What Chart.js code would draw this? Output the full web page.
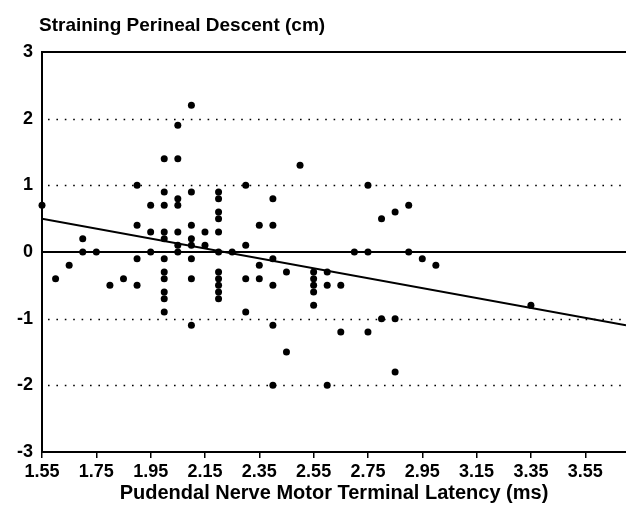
<!DOCTYPE html>
<html>
<head>
<meta charset="utf-8">
<script src="https://cdn.jsdelivr.net/npm/chart.js@4.4.1/dist/chart.umd.min.js"></script>
<style>
  body { margin: 0; background: #fff; }
  #wrap { width: 626px; height: 525px; }
</style>
</head>
<body>
<div id="wrap"><canvas id="chart" width="626" height="525"></canvas></div>
<script>
// latency (ms) and straining descent (cm), one entry per patient
const latency = [
    1.55, 1.60, 1.65, 1.70, 1.70, 1.75, 1.80, 1.85,
    1.90, 1.90, 1.90, 1.90,
    1.95, 1.95, 1.95,
    2.00, 2.00, 2.00, 2.00, 2.00, 2.00, 2.00, 2.00, 2.00, 2.00, 2.00,
    2.05, 2.05, 2.05, 2.05, 2.05, 2.05, 2.05,
    2.10, 2.10, 2.10, 2.10, 2.10, 2.10, 2.10, 2.10,
    2.15, 2.15,
    2.20, 2.20, 2.20, 2.20, 2.20, 2.20, 2.20, 2.20, 2.20, 2.20, 2.20,
    2.25,
    2.30, 2.30, 2.30, 2.30,
    2.35, 2.35, 2.35,
    2.40, 2.40, 2.40, 2.40, 2.40, 2.40,
    2.45, 2.45,
    2.50,
    2.55, 2.55, 2.55, 2.55, 2.55,
    2.60, 2.60, 2.60,
    2.65, 2.65,
    2.70,
    2.75, 2.75, 2.75,
    2.80, 2.80,
    2.85, 2.85, 2.85,
    2.90, 2.90,
    2.95, 3.00, 3.35
];
const descent = [
    0.7, -0.4, -0.2, 0.2, 0, 0, -0.5, -0.4,
    1.0, 0.4, -0.1, -0.5,
    0.7, 0.3, 0,
    1.4, 0.9, 0.7, 0.3, 0.2, -0.1, -0.3, -0.4, -0.6, -0.7, -0.9,
    1.9, 1.4, 0.8, 0.7, 0.3, 0.1, 0,
    2.2, 0.9, 0.4, 0.2, 0.1, -0.1, -0.4, -1.1,
    0.3, 0.1,
    0.9, 0.8, 0.6, 0.5, 0.3, 0, -0.3, -0.4, -0.5, -0.6, -0.7,
    0,
    1.0, 0.1, -0.4, -0.9,
    0.4, -0.2, -0.4,
    0.8, 0.4, -0.1, -0.5, -1.1, -2.0,
    -0.3, -1.5,
    1.3,
    -0.3, -0.4, -0.5, -0.6, -0.8,
    -0.3, -0.5, -2.0,
    -0.5, -1.2,
    0,
    1.0, 0, -1.2,
    0.5, -1.0,
    0.6, -1.0, -1.8,
    0.7, 0,
    -0.1, -0.2, -0.8
];

// regression line
const fitX = [1.55, 3.7];
const fitY = [0.5, -1.1];

const xTicks = [1.55, 1.75, 1.95, 2.15, 2.35, 2.55, 2.75, 2.95, 3.15, 3.35, 3.55];
const yTicks = [-3, -2, -1, 0, 1, 2, 3];
const dottedAt = [-2, -1, 1, 2];
const solidAt = [0, 3];

const yTitle = 'Straining Perineal Descent (cm)';
const xTitle = 'Pudendal Nerve Motor Terminal Latency (ms)';
const FONT = '"Liberation Sans", Arial, Helvetica, sans-serif';

const points = latency.map((x, i) => ({ x: x, y: descent[i] }));
const fitLine = fitX.map((x, i) => ({ x: x, y: fitY[i] }));

// horizontal reference lines + the y title in the top-left corner
const refLines = {
    id: 'refLines',
    beforeDatasetsDraw(chart) {
        const { ctx, chartArea, scales } = chart;
        ctx.save();
        ctx.strokeStyle = '#000';
        ctx.lineWidth = 1.6;
        ctx.setLineDash([1.6, 6.8]);
        dottedAt.forEach(v => {
            const y = Math.round(scales.y.getPixelForValue(v)) + 0.5;
            ctx.beginPath();
            ctx.moveTo(chartArea.left + 6, y);
            ctx.lineTo(chartArea.right, y);
            ctx.stroke();
        });
        ctx.setLineDash([]);
        ctx.lineWidth = 2;
        solidAt.forEach(v => {
            const y = scales.y.getPixelForValue(v);
            ctx.beginPath();
            ctx.moveTo(chartArea.left, y);
            ctx.lineTo(chartArea.right, y);
            ctx.stroke();
        });
        ctx.restore();
    },
    afterDraw(chart) {
        const ctx = chart.ctx;
        ctx.save();
        ctx.fillStyle = '#000';
        ctx.font = 'bold 19px ' + FONT;
        ctx.textBaseline = 'alphabetic';
        ctx.textAlign = 'left';
        ctx.fillText(yTitle, 39, 31);
        ctx.restore();
    }
};

new Chart(document.getElementById('chart').getContext('2d'), {
    type: 'scatter',
    data: {
        datasets: [
            {
                data: points,
                backgroundColor: '#000',
                borderColor: '#000',
                pointRadius: 3.5,
                pointHoverRadius: 3.5,
                borderWidth: 0,
                clip: false
            },
            {
                type: 'line',
                data: fitLine,
                showLine: true,
                borderColor: '#000',
                borderWidth: 2,
                pointRadius: 0,
                fill: false
            }
        ]
    },
    options: {
        responsive: false,
        animation: false,
        events: [],
        layout: { autoPadding: false, padding: { top: 52, left: 0, right: 0, bottom: 0 } },
        plugins: {
            legend: { display: false },
            tooltip: { enabled: false }
        },
        scales: {
            x: {
                type: 'linear',
                min: 1.55,
                max: 3.7,
                afterBuildTicks: scale => { scale.ticks = xTicks.map(v => ({ value: v })); },
                afterFit: scale => {
                    scale.height = 73;
                    scale.paddingRight = 0;
                },
                ticks: {
                    color: '#000',
                    font: { family: FONT, size: 18, weight: 'bold' },
                    padding: 3,
                    maxRotation: 0,
                    autoSkip: false,
                    callback: v => v.toFixed(2)
                },
                grid: {
                    drawOnChartArea: false,
                    drawTicks: true,
                    tickLength: 6,
                    color: '#000',
                    lineWidth: 1.5
                },
                border: { display: true, color: '#000', width: 2 },
                title: {
                    display: true,
                    text: xTitle,
                    color: '#000',
                    font: { family: FONT, size: 20, weight: 'bold' },
                    padding: { top: 0, bottom: 20 }
                }
            },
            y: {
                type: 'linear',
                min: -3,
                max: 3,
                afterBuildTicks: scale => { scale.ticks = yTicks.map(v => ({ value: v })); },
                afterFit: scale => { scale.width = 42; },
                ticks: {
                    color: '#000',
                    font: { family: FONT, size: 18, weight: 'bold' },
                    padding: 9
                },
                grid: { display: false, drawTicks: false },
                border: { display: true, color: '#000', width: 2 }
            }
        }
    },
    plugins: [refLines]
});
</script>
</body>
</html>
